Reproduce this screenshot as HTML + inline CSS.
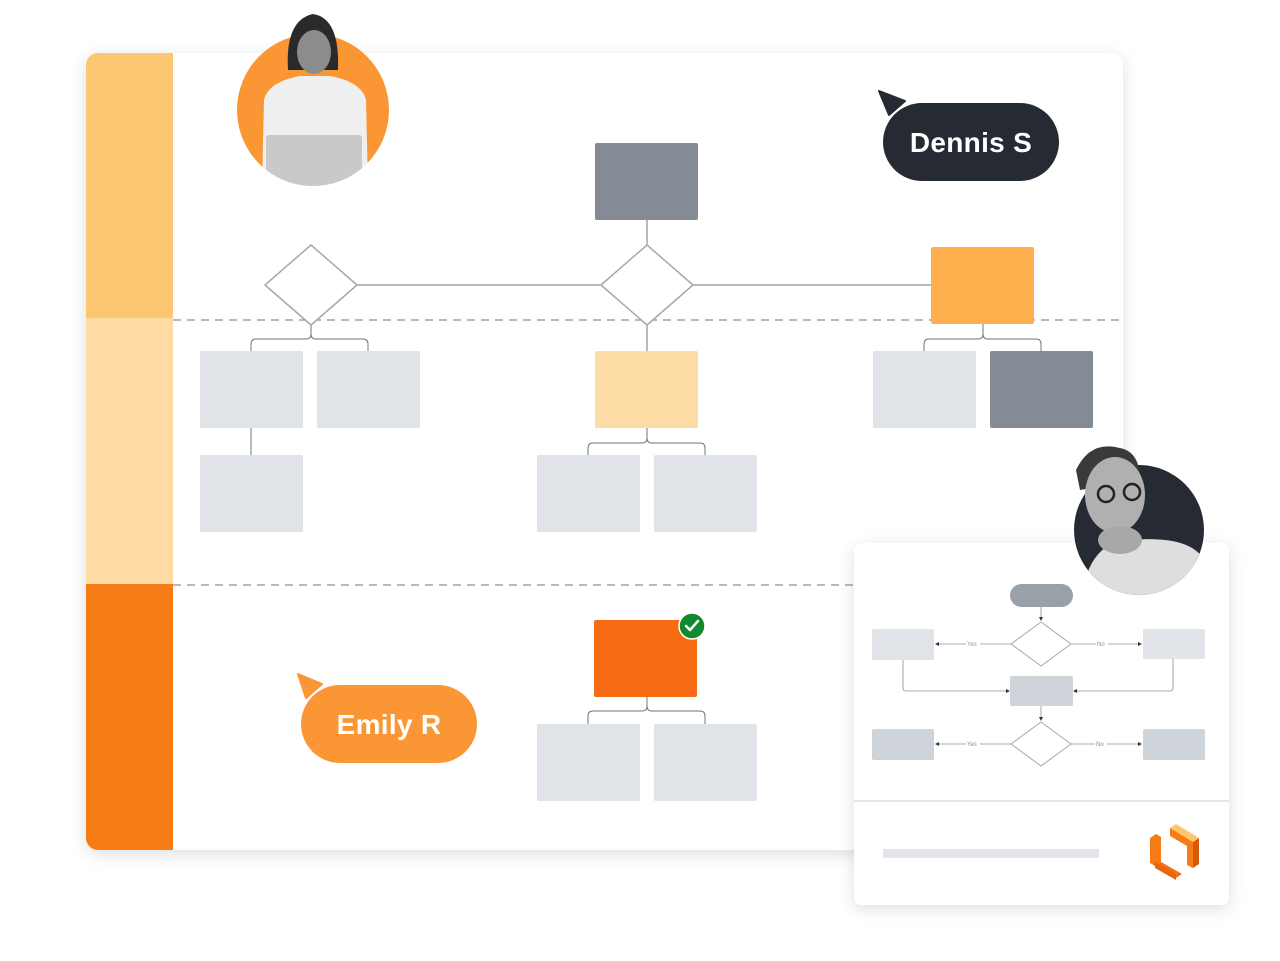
<!DOCTYPE html>
<html><head><meta charset="utf-8"><style>
html,body{margin:0;padding:0;background:#fff;width:1280px;height:961px;overflow:hidden}
svg{display:block}
</style></head><body>
<svg width="1280" height="961" viewBox="0 0 1280 961" xmlns="http://www.w3.org/2000/svg" font-family="Liberation Sans, sans-serif">
<defs>
<filter id="sh" x="-10%" y="-10%" width="120%" height="120%"><feDropShadow dx="0" dy="4" stdDeviation="8" flood-color="#000" flood-opacity="0.13"/></filter>
<clipPath id="cw"><circle cx="313" cy="110" r="76"/><rect x="270" y="0" width="90" height="110"/></clipPath>
<clipPath id="cm"><circle cx="1139" cy="530" r="65"/><rect x="1070" y="440" width="80" height="90"/></clipPath>
<clipPath id="card"><rect x="86" y="53" width="1037" height="797" rx="12"/></clipPath>
</defs>
<rect x="86" y="53" width="1037" height="797" rx="12" fill="#fff" filter="url(#sh)"/>
<g clip-path="url(#card)">
<rect x="86" y="53" width="87" height="266" fill="#fdc772"/>
<rect x="86" y="318" width="87" height="267" fill="#fddba3"/>
<rect x="86" y="584" width="87" height="266" fill="#f77b17"/>
</g>
<line x1="173" y1="320" x2="1123" y2="320" stroke="#8a9099" stroke-width="1.3" stroke-dasharray="8,6"/>
<line x1="173" y1="585" x2="860" y2="585" stroke="#8a9099" stroke-width="1.3" stroke-dasharray="8,6"/>
<g stroke="#6e747c" stroke-width="1" fill="none">
<line x1="357" y1="285" x2="601" y2="285"/>
<line x1="693" y1="285" x2="931" y2="285"/>
<line x1="647" y1="220" x2="647" y2="245"/>
<line x1="647" y1="325" x2="647" y2="351"/>
<path d="M311 325 V334 Q311 339 306 339 H256 Q251 339 251 344 V351 M311 334 Q311 339 316 339 H363 Q368 339 368 344 V351"/>
<path d="M983 324 V334 Q983 339 978 339 H929 Q924 339 924 344 V351 M983 334 Q983 339 988 339 H1036 Q1041 339 1041 344 V351"/>
<line x1="251" y1="428" x2="251" y2="455"/>
<path d="M647 428 V438 Q647 443 642 443 H593 Q588 443 588 448 V455 M647 438 Q647 443 652 443 H700 Q705 443 705 448 V455"/>
<path d="M647 697 V706 Q647 711 642 711 H593 Q588 711 588 716 V724 M647 706 Q647 711 652 711 H700 Q705 711 705 716 V724"/>
</g>
<g stroke="#a3a9b2" stroke-width="1.5" fill="#fff" stroke-linejoin="round">
<path d="M311 245 L357 285 L311 325 L265 285 Z"/>
<path d="M647 245 L693 285 L647 325 L601 285 Z"/>
</g>
<rect x="595" y="143" width="103" height="77" rx="2" fill="#858b94"/>
<rect x="931" y="247" width="103" height="77" rx="2" fill="#ffaf4e"/>
<rect x="595" y="351" width="103" height="77" rx="2" fill="#fddda6"/>
<g fill="#e0e3e7">
<rect x="200" y="351" width="103" height="77" rx="2"/>
<rect x="317" y="351" width="103" height="77" rx="2"/>
<rect x="873" y="351" width="103" height="77" rx="2"/>
<rect x="200" y="455" width="103" height="77" rx="2"/>
<rect x="537" y="455" width="103" height="77" rx="2"/>
<rect x="654" y="455" width="103" height="77" rx="2"/>
<rect x="537" y="724" width="103" height="77" rx="2"/>
<rect x="654" y="724" width="103" height="77" rx="2"/>
</g>
<rect x="990" y="351" width="103" height="77" rx="2" fill="#858b94"/>
<rect x="594" y="620" width="103" height="77" rx="2" fill="#f76b15"/>
<circle cx="692" cy="626" r="13" fill="#108a2d" stroke="#fff" stroke-width="1.5"/>
<path d="M686 626 L690 630 L698 621" stroke="#fff" stroke-width="2.5" fill="none" stroke-linecap="round" stroke-linejoin="round"/>
<path d="M879 91 L905 101 L889 115 Z" fill="#262b33" stroke="#262b33" stroke-linejoin="round" stroke-width="2"/>
<rect x="883" y="103" width="176" height="78" rx="39" fill="#262b33"/>
<text x="971" y="152" text-anchor="middle" font-size="28" font-weight="bold" fill="#fff" letter-spacing="0.3">Dennis S</text>
<path d="M298 674 L322 684 L306 698 Z" fill="#fa9633" stroke="#fa9633" stroke-linejoin="round" stroke-width="2"/>
<rect x="301" y="685" width="176" height="78" rx="39" fill="#fa9633"/>
<text x="389" y="734" text-anchor="middle" font-size="28" font-weight="bold" fill="#fff" letter-spacing="0.3">Emily R</text>
<circle cx="313" cy="110" r="76" fill="#fa9633"/>
<g clip-path="url(#cw)">
<path d="M288 70 Q285 20 313 14 Q340 18 338 70 Z" fill="#2a2a2a"/>
<ellipse cx="314" cy="52" rx="17" ry="22" fill="#8c8c8c"/>
<path d="M262 186 L264 100 Q268 82 300 76 L330 76 Q362 82 366 100 L368 186 Z" fill="#efefef"/>
<rect x="266" y="135" width="96" height="60" rx="3" fill="#c9c9c9"/>
</g>
<rect x="854" y="543" width="375" height="362" rx="8" fill="#fff" filter="url(#sh)"/>
<circle cx="1139" cy="530" r="65" fill="#262b33"/>
<g clip-path="url(#cm)">
<path d="M1076 470 Q1090 440 1120 448 Q1140 452 1140 480 L1080 490 Z" fill="#3a3a3a"/>
<ellipse cx="1115" cy="495" rx="30" ry="38" fill="#b0b0b0"/>
<circle cx="1106" cy="494" r="8" fill="none" stroke="#222" stroke-width="2.5"/>
<circle cx="1132" cy="492" r="8" fill="none" stroke="#222" stroke-width="2.5"/>
<path d="M1080 600 Q1090 540 1130 540 Q1190 535 1204 560 L1204 600 Z" fill="#dedede"/>
<ellipse cx="1120" cy="540" rx="22" ry="14" fill="#a8a8a8"/>
</g>
<line x1="854" y1="801" x2="1229" y2="801" stroke="#e1e4e8" stroke-width="2"/>
<rect x="1010" y="584" width="63" height="23" rx="11.5" fill="#9aa0a8"/>
<g stroke="#8a9099" stroke-width="0.8" fill="none">
<line x1="1041" y1="607" x2="1041" y2="620"/>
<line x1="1041" y1="706" x2="1041" y2="720"/>
<line x1="936" y1="644" x2="1011" y2="644"/>
<line x1="1071" y1="644" x2="1141" y2="644"/>
<line x1="936" y1="744" x2="1011" y2="744"/>
<line x1="1071" y1="744" x2="1141" y2="744"/>
<path d="M903 660 V688 Q903 691 906 691 H1008"/>
<path d="M1173 659 V688 Q1173 691 1170 691 H1075"/>
</g>
<g fill="#fff" stroke="#a3a9b2" stroke-width="1">
<path d="M1041 622 L1071 644 L1041 666 L1011 644 Z"/>
<path d="M1041 722 L1071 744 L1041 766 L1011 744 Z"/>
</g>
<g font-size="6" fill="#8a9099">
<rect x="966" y="640" width="14" height="8" fill="#fff"/><text x="967" y="646">Yes</text>
<rect x="1096" y="640" width="12" height="8" fill="#fff"/><text x="1097" y="646">No</text>
<rect x="966" y="740" width="14" height="8" fill="#fff"/><text x="967" y="746">Yes</text>
<rect x="1095" y="740" width="12" height="8" fill="#fff"/><text x="1096" y="746">No</text>
</g>
<g fill="#333">
<path d="M935 644 l4 -2 v4z"/><path d="M1142 644 l-4 -2 v4z"/>
<path d="M935 744 l4 -2 v4z"/><path d="M1142 744 l-4 -2 v4z"/>
<path d="M1010 691 l-4 -2 v4z"/><path d="M1073 691 l4 -2 v4z"/>
<path d="M1041 621 l-2 -4 h4z"/><path d="M1041 721 l-2 -4 h4z"/>
</g>
<rect x="872" y="629" width="62" height="31" rx="2" fill="#e0e3e7"/>
<rect x="1143" y="629" width="62" height="30" rx="2" fill="#e0e3e7"/>
<rect x="1010" y="676" width="63" height="30" rx="2" fill="#cfd4db"/>
<rect x="872" y="729" width="62" height="31" rx="2" fill="#cfd4db"/>
<rect x="1143" y="729" width="62" height="31" rx="2" fill="#cfd4db"/>
<rect x="883" y="849" width="216" height="9" fill="#e1e4e8"/>
<g>
<path d="M1150 838 L1156 834 L1161 837 L1161 862 L1155 866 L1150 863 Z" fill="#f77b17"/>
<path d="M1155 866 L1161 862 L1182 874 L1176 878 Z" fill="#f76b15"/>
<path d="M1155 862 L1176 874 L1176 880 L1155 868 Z" fill="#e9650f"/>
<path d="M1170 828 L1176 824 L1199 838 L1193 842 Z" fill="#ffc76c"/>
<path d="M1170 828 L1193 842 L1193 868 L1187 865 L1187 846 L1170 836 Z" fill="#f77b17"/>
<path d="M1193 842 L1199 838 L1199 864 L1193 868 Z" fill="#d45a0a"/>
</g>
</svg>
</body></html>
